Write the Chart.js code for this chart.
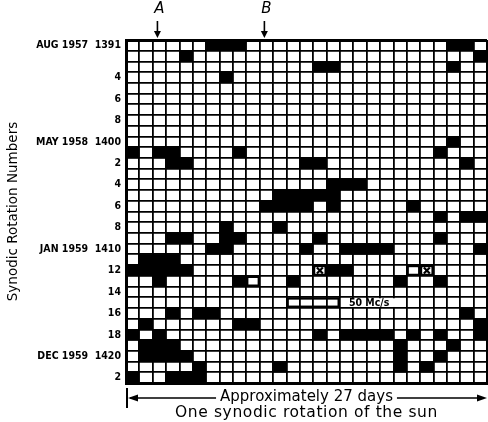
<!DOCTYPE html>
<html>
<head>
<meta charset="utf-8">
<style>
html,body{margin:0;padding:0;background:#fff;}
#wrap{width:488px;height:422px;}
</style>
<script src="https://cdn.jsdelivr.net/npm/chart.js@4/dist/chart.umd.min.js"></script>
</head>
<body>
<div id="wrap"><canvas id="c" width="488" height="422"></canvas></div>
<script>
// ---- data ----
const days = ['1','2','3','4','5','6','7','8','9','10','11','12','13','14','15','16','17','18','19','20','21','22','23','24','25','26','27'];
const rotations = [1391,1392,1393,1394,1395,1396,1397,1398,1399,1400,1401,1402,1403,1404,1405,1406,1407,1408,1409,1410,1411,1412,1413,1414,1415,1416,1417,1418,1419,1420,1421,1422];
const rotationLabels = ['AUG 1957  1391','','','4','','6','','8','','MAY 1958  1400','','2','','4','','6','','8','','JAN 1959  1410','','12','','14','','16','','18','','DEC 1959  1420','','2'];
// columns (0-based day index) of solid black cells, one list per rotation
const activeCells = [
  [6,7,8,24,25],
  [4,26],
  [14,15,24],
  [7],
  [],
  [],
  [],
  [],
  [],
  [24],
  [0,2,3,8,23],
  [3,4,13,14,25],
  [],
  [15,16,17],
  [11,12,13,14,15],
  [10,11,12,13,15,21],
  [23,25,26],
  [7,11],
  [3,4,7,8,14,23],
  [6,7,13,16,17,18,19,26],
  [1,2,3],
  [0,1,2,3,4,15,16],
  [2,8,12,20,23],
  [],
  [],
  [3,5,6,25],
  [1,8,9,26],
  [0,2,14,16,17,18,19,21,23,26],
  [1,2,3,20,24],
  [1,2,3,4,20,23],
  [5,11,20,22],
  [0,3,4,5]
];
const openCellRot = [1412, 1413];
const openCellDay = [21, 9];
const crossCellRot = [1412, 1412];
const crossCellDay = [14, 22];
const markerLabels = ['', '', 'A', '', '', '', '', '', '', '', 'B', '', '', '', '', '', '', '', '', '', '', '', '', '', '', '', ''];
const legendRot = 1415;
const legendDays = [12, 15];
const legendText = '50 Mc/s';
const bottomText = ['Approximately 27 days', 'One synodic rotation of the sun'];

// ---- datasets ----
const datasets = [];
// crosses
datasets.push({
  type: 'line',
  data: days.map((d, i) => { const k = crossCellDay.indexOf(i); return k >= 0 ? crossCellRot[k] + 0.5 : null; }),
  showLine: false,
  pointStyle: 'crossRot',
  pointRadius: 4.2,
  pointBorderWidth: 2.2,
  borderColor: '#000',
  backgroundColor: '#000'
});
// open (outlined) cells incl. crossed ones
datasets.push({
  type: 'bar',
  data: days.map((d, i) => {
    let k = openCellDay.indexOf(i); if (k >= 0) return [openCellRot[k], openCellRot[k] + 1];
    k = crossCellDay.indexOf(i); if (k >= 0) return [crossCellRot[k], crossCellRot[k] + 1];
    return null;
  }),
  backgroundColor: '#fff', borderColor: '#000', borderWidth: 2.4, borderSkipped: false,
  grouped: false, barPercentage: 1, categoryPercentage: 1
});
rotations.forEach((rot, r) => {
  datasets.push({
    type: 'bar',
    data: days.map((d, i) => activeCells[r].includes(i) ? [rot, rot + 1] : null),
    backgroundColor: '#000', borderWidth: 0,
    grouped: false, barPercentage: 1, categoryPercentage: 1
  });
});

const labelFont = "'DejaVu Sans Condensed', 'Liberation Sans Narrow', 'DejaVu Sans', sans-serif";

const annot = {
  id: 'annot',
  afterDatasetsDraw(chart) {
    const {ctx, chartArea: ca, scales: {x, y}} = chart;
    const half = (x.getPixelForValue(1) - x.getPixelForValue(0)) / 2;
    ctx.save();
    // legend box and label
    const lx0 = x.getPixelForValue(legendDays[0]) - half;
    const lx1 = x.getPixelForValue(legendDays[1]) + half;
    const ly0 = y.getPixelForValue(legendRot);
    const ly1 = y.getPixelForValue(legendRot + 1);
    ctx.font = 'bold 10.5px ' + labelFont;
    const tw = ctx.measureText(legendText).width;
    ctx.fillStyle = '#fff';
    ctx.fillRect(lx1 + 1, ly0 + 1, tw + 14, ly1 - ly0 - 2);
    ctx.strokeStyle = '#000';
    ctx.lineWidth = 2.4;
    ctx.strokeRect(lx0 + 1.2, ly0 + 1.2, lx1 - lx0 - 2.4, ly1 - ly0 - 2.4);
    ctx.fillStyle = '#000';
    ctx.textBaseline = 'middle';
    ctx.textAlign = 'left';
    ctx.fillText(legendText, lx1 + 9, (ly0 + ly1) / 2 + 0.5);
    // A / B arrows
    markerLabels.forEach((m, i) => {
      if (!m) return;
      const px = x.getPixelForValue(i) - 2;
      ctx.lineWidth = 1.6;
      ctx.beginPath(); ctx.moveTo(px, 21); ctx.lineTo(px, 33); ctx.stroke();
      ctx.beginPath(); ctx.moveTo(px - 3.5, 31); ctx.lineTo(px + 3.5, 31); ctx.lineTo(px, 38); ctx.closePath(); ctx.fill();
    });
    // bottom span arrow and text
    const cx = (ca.left + ca.right) / 2;
    const yl = 398;
    ctx.font = '15px DejaVu Sans, sans-serif';
    ctx.textAlign = 'center';
    ctx.fillText(bottomText[0], cx, 397);
    const w0 = ctx.measureText(bottomText[0]).width;
    ctx.lineWidth = 1.6;
    ctx.beginPath();
    ctx.moveTo(ca.left + 4, yl); ctx.lineTo(cx - w0 / 2 - 4, yl);
    ctx.moveTo(cx + w0 / 2 + 4, yl); ctx.lineTo(ca.right - 4, yl);
    ctx.stroke();
    ctx.beginPath(); ctx.moveTo(ca.left + 2, yl); ctx.lineTo(ca.left + 12, yl - 3.5); ctx.lineTo(ca.left + 12, yl + 3.5); ctx.closePath(); ctx.fill();
    ctx.beginPath(); ctx.moveTo(ca.right, yl); ctx.lineTo(ca.right - 10, yl - 3.5); ctx.lineTo(ca.right - 10, yl + 3.5); ctx.closePath(); ctx.fill();
    ctx.lineWidth = 2;
    ctx.beginPath(); ctx.moveTo(ca.left + 1, 388); ctx.lineTo(ca.left + 1, 408); ctx.stroke();
    ctx.font = '15.5px DejaVu Sans, sans-serif';
    try { ctx.letterSpacing = '0.6px'; } catch (e) {}
    ctx.fillText(bottomText[1], cx, 413);
    ctx.restore();
  }
};

const noSidePad = (s) => { s.paddingLeft = 0; s.paddingRight = 0; };

new Chart(document.getElementById('c'), {
  type: 'bar',
  data: { labels: days, datasets },
  plugins: [annot],
  options: {
    responsive: false,
    animation: false,
    devicePixelRatio: 1,
    layout: { autoPadding: false, padding: { right: 1, top: 0, bottom: 0, left: 0 } },
    plugins: { legend: { display: false }, tooltip: { enabled: false } },
    scales: {
      x: {
        type: 'category',
        offset: true,
        grid: {
          offset: true, color: '#000', drawTicks: false,
          lineWidth: (c) => (c.index === 0 || c.index === undefined) ? 3 : 1.8
        },
        border: { display: true, color: '#000', width: 3 },
        ticks: { display: false, padding: 0 },
        afterFit: (s) => { s.height = 39; noSidePad(s); }
      },
      xTop: {
        type: 'category',
        position: 'top',
        labels: markerLabels,
        offset: true,
        grid: { display: false, drawTicks: false },
        border: { display: false },
        ticks: { autoSkip: false, maxRotation: 0, padding: 22, color: '#000', font: { family: 'DejaVu Sans', style: 'italic', size: 15 } },
        afterFit: (s) => { s.height = 40; noSidePad(s); }
      },
      y: {
        type: 'linear',
        reverse: true,
        min: rotations[0],
        max: rotations[rotations.length - 1] + 1,
        afterBuildTicks: (s) => { s.ticks = rotations.concat([rotations[rotations.length - 1] + 1]).map(v => ({ value: v })); },
        grid: {
          color: '#000', drawTicks: false,
          lineWidth: (c) => (c.tick && (c.tick.value === rotations[0] || c.tick.value === rotations[rotations.length - 1] + 1)) ? 3 : 1.8
        },
        border: { display: true, color: '#000', width: 3 },
        ticks: {
          autoSkip: false, padding: 5, labelOffset: 5.36, color: '#000',
          font: { family: labelFont, weight: 'bold', size: 10.5 },
          callback: (v, i) => rotationLabels[i] || ''
        },
        title: { display: true, text: 'Synodic Rotation Numbers', color: '#000', font: { family: 'DejaVu Sans', size: 13.5 }, padding: { top: 5, bottom: 0 } },
        afterFit: (s) => { s.width = 126; }
      }
    }
  }
});
</script>
</body>
</html>
